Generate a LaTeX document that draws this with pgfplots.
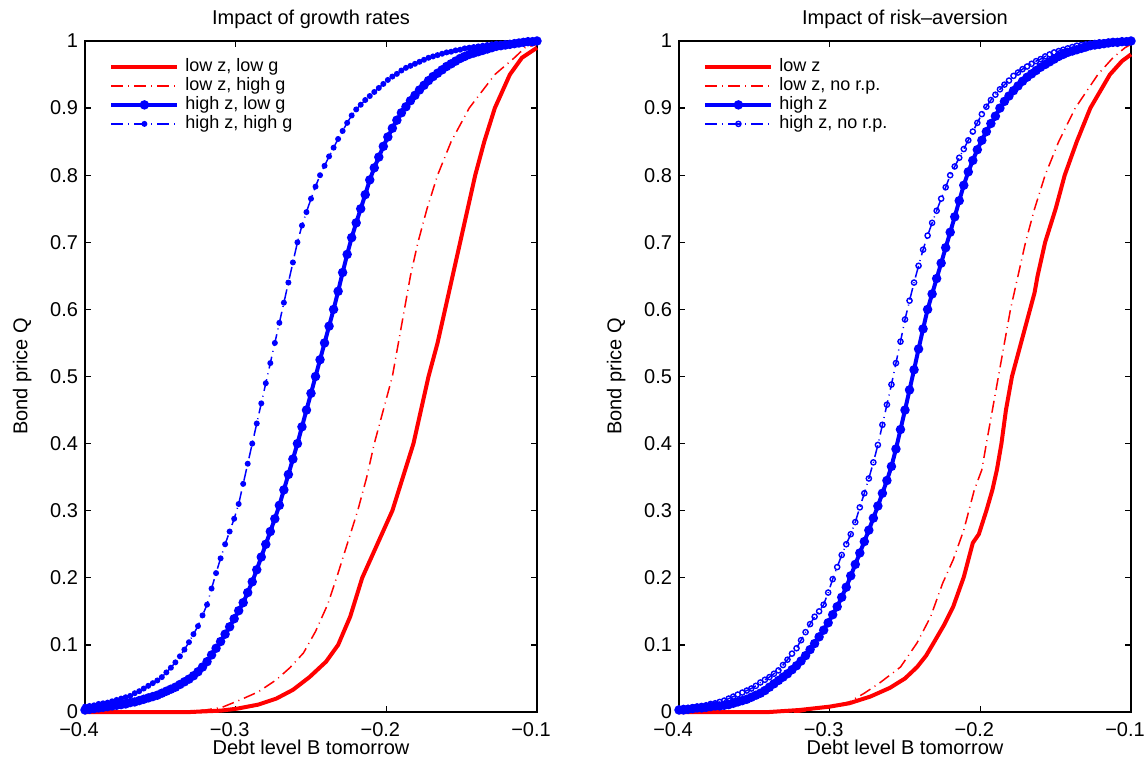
\documentclass[border=0pt]{standalone}
\usepackage{pgfplots}
\pgfplotsset{compat=1.18}
\usepackage{pgfplotstable}
\usepackage{fontspec}
\setmainfont{Liberation Sans}

% Bond price schedules Q(B') on a common grid of debt levels
\pgfplotstableread{
x      hzlg  hzhg
-0.400 0.003 0.008
-0.397 0.004 0.009
-0.394 0.005 0.010
-0.391 0.006 0.012
-0.388 0.007 0.013
-0.385 0.008 0.014
-0.382 0.009 0.016
-0.379 0.010 0.018
-0.376 0.011 0.020
-0.373 0.012 0.022
-0.370 0.014 0.024
-0.367 0.015 0.028
-0.364 0.017 0.031
-0.361 0.019 0.035
-0.358 0.021 0.039
-0.355 0.023 0.043
-0.352 0.025 0.047
-0.349 0.028 0.052
-0.346 0.031 0.059
-0.343 0.034 0.066
-0.340 0.037 0.074
-0.337 0.041 0.083
-0.334 0.045 0.093
-0.331 0.049 0.104
-0.328 0.054 0.116
-0.325 0.060 0.128
-0.322 0.067 0.144
-0.319 0.075 0.160
-0.316 0.085 0.184
-0.313 0.095 0.207
-0.310 0.105 0.229
-0.307 0.116 0.250
-0.304 0.127 0.269
-0.301 0.139 0.288
-0.298 0.151 0.310
-0.295 0.163 0.340
-0.292 0.178 0.370
-0.289 0.194 0.400
-0.286 0.212 0.430
-0.283 0.231 0.460
-0.280 0.250 0.490
-0.277 0.269 0.520
-0.274 0.288 0.550
-0.271 0.308 0.580
-0.268 0.331 0.610
-0.265 0.354 0.640
-0.262 0.377 0.670
-0.259 0.400 0.700
-0.256 0.425 0.725
-0.253 0.450 0.745
-0.250 0.475 0.765
-0.247 0.500 0.783
-0.244 0.525 0.800
-0.241 0.550 0.814
-0.238 0.575 0.828
-0.235 0.600 0.841
-0.232 0.627 0.854
-0.229 0.655 0.866
-0.226 0.682 0.878
-0.223 0.707 0.889
-0.220 0.729 0.898
-0.217 0.750 0.905
-0.214 0.771 0.912
-0.211 0.793 0.918
-0.208 0.811 0.924
-0.205 0.827 0.930
-0.202 0.843 0.936
-0.199 0.857 0.942
-0.196 0.870 0.947
-0.193 0.882 0.951
-0.190 0.893 0.956
-0.187 0.902 0.960
-0.184 0.911 0.963
-0.181 0.919 0.966
-0.178 0.927 0.969
-0.175 0.934 0.972
-0.172 0.941 0.975
-0.169 0.947 0.977
-0.166 0.952 0.979
-0.163 0.957 0.981
-0.160 0.962 0.983
-0.157 0.966 0.984
-0.154 0.970 0.986
-0.151 0.974 0.987
-0.148 0.977 0.989
-0.145 0.980 0.990
-0.142 0.982 0.991
-0.139 0.984 0.992
-0.136 0.986 0.993
-0.133 0.988 0.994
-0.130 0.990 0.995
-0.127 0.992 0.996
-0.124 0.993 0.996
-0.121 0.994 0.997
-0.118 0.995 0.997
-0.115 0.996 0.998
-0.112 0.997 0.998
-0.109 0.998 0.999
-0.106 0.999 0.999
-0.103 0.999 0.999
-0.100 1.000 1.000
}\growthblue

\pgfplotstableread{
x      hz    hznrp
-0.400 0.003 0.005
-0.397 0.003 0.006
-0.394 0.004 0.006
-0.391 0.005 0.007
-0.388 0.006 0.008
-0.385 0.006 0.009
-0.382 0.007 0.010
-0.379 0.008 0.012
-0.376 0.009 0.013
-0.373 0.009 0.015
-0.370 0.010 0.017
-0.367 0.011 0.020
-0.364 0.013 0.023
-0.361 0.015 0.026
-0.358 0.017 0.029
-0.355 0.019 0.032
-0.352 0.022 0.035
-0.349 0.025 0.039
-0.346 0.028 0.044
-0.343 0.032 0.048
-0.340 0.037 0.052
-0.337 0.042 0.057
-0.334 0.047 0.062
-0.331 0.052 0.070
-0.328 0.057 0.078
-0.325 0.063 0.087
-0.322 0.069 0.095
-0.319 0.076 0.107
-0.316 0.084 0.119
-0.313 0.093 0.131
-0.310 0.102 0.142
-0.307 0.112 0.150
-0.304 0.122 0.160
-0.301 0.133 0.178
-0.298 0.145 0.198
-0.295 0.157 0.216
-0.292 0.171 0.234
-0.289 0.186 0.250
-0.286 0.203 0.265
-0.283 0.220 0.283
-0.280 0.237 0.305
-0.277 0.254 0.326
-0.274 0.271 0.348
-0.271 0.289 0.372
-0.268 0.307 0.398
-0.265 0.326 0.428
-0.262 0.345 0.458
-0.259 0.366 0.488
-0.256 0.392 0.520
-0.253 0.421 0.552
-0.250 0.450 0.585
-0.247 0.480 0.613
-0.244 0.510 0.640
-0.241 0.541 0.665
-0.238 0.571 0.689
-0.235 0.600 0.710
-0.232 0.623 0.729
-0.229 0.646 0.747
-0.226 0.669 0.765
-0.223 0.692 0.782
-0.220 0.715 0.800
-0.217 0.738 0.813
-0.214 0.762 0.826
-0.211 0.785 0.839
-0.208 0.805 0.852
-0.205 0.822 0.865
-0.202 0.838 0.878
-0.199 0.852 0.891
-0.196 0.865 0.902
-0.193 0.877 0.912
-0.190 0.888 0.920
-0.187 0.900 0.928
-0.184 0.910 0.935
-0.181 0.918 0.941
-0.178 0.926 0.948
-0.175 0.933 0.953
-0.172 0.940 0.958
-0.169 0.946 0.962
-0.166 0.951 0.966
-0.163 0.956 0.970
-0.160 0.961 0.973
-0.157 0.965 0.977
-0.154 0.969 0.980
-0.151 0.973 0.983
-0.148 0.977 0.985
-0.145 0.980 0.987
-0.142 0.983 0.989
-0.139 0.985 0.991
-0.136 0.987 0.993
-0.133 0.989 0.994
-0.130 0.991 0.995
-0.127 0.993 0.996
-0.124 0.994 0.997
-0.121 0.995 0.998
-0.118 0.996 0.998
-0.115 0.997 0.999
-0.112 0.998 0.999
-0.109 0.998 0.999
-0.106 0.999 1.000
-0.103 0.999 1.000
-0.100 1.000 1.000
}\riskblue

\pgfplotsset{
  qpanel/.style={
    scale only axis, width=226pt, height=335.5pt,
    xmin=-0.4, xmax=-0.1, ymin=0, ymax=1,
    clip=false,
    xtick={-0.4,-0.3,-0.2,-0.1},
    xticklabels={−0.4,−0.3,−0.2,−0.1},
    ytick={0,0.1,0.2,0.3,0.4,0.5,0.6,0.7,0.8,0.9,1},
    yticklabels={0,0.1,0.2,0.3,0.4,0.5,0.6,0.7,0.8,0.9,1},
    tick align=inside, major tick length=3pt,
    every tick/.style={black, line width=0.6pt},
    axis line style={line width=0.6pt},
    ticklabel style={font=\fontsize{10}{12}\selectfont},
    xticklabel style={xshift=-3pt, yshift=-1.5pt},
    xlabel style={at={(axis description cs:0.5,-0.052)}, anchor=center, font=\fontsize{10}{12}\selectfont},
    ylabel style={at={(axis description cs:-0.139,0.5)}, anchor=center, font=\fontsize{10}{12}\selectfont},
    title style={at={(axis description cs:0.5,1)}, anchor=base, yshift=2pt, font=\fontsize{10}{12}\selectfont},
    xlabel={Debt level B tomorrow},
    ylabel={Bond price Q},
    legend cell align=left,
    legend style={draw=none, fill=none, at={(axis description cs:0,1)}, anchor=north west,
      xshift=12pt, yshift=-8pt, inner sep=0pt, row sep=0pt,
      font=\fontsize{9}{10}\selectfont,
      nodes={text height=6.5pt, text depth=2pt, inner sep=0.5pt},
      /tikz/every odd column/.append style={column sep=2.5pt}},
    legend image code/.code={\draw[mark repeat=2, mark phase=2, #1]
      plot coordinates {(0pt,0pt) (16.5pt,0pt) (33pt,0pt)};},
  },
  redsolid/.style={red, line width=2pt, no marks},
  reddashdot/.style={red, line width=0.75pt, no marks,
    dash pattern=on 6pt off 2.5pt on 0.5pt off 2.5pt},
  bluesolid/.style={blue, line width=2pt, mark=*, mark size=1.3pt, mark options={solid, fill=blue}},
  bluedashdot/.style={blue, line width=0.75pt, mark=*, mark size=1.1pt,
    dash pattern=on 6pt off 2.5pt on 0.5pt off 2.5pt, mark options={solid, fill=blue}},
  blueopen/.style={blue, line width=0.75pt, mark=o, mark size=1.3pt,
    dash pattern=on 6pt off 2.5pt on 0.5pt off 2.5pt, mark options={solid, line width=0.7pt}},
}

\begin{document}
\begin{tikzpicture}
\useasboundingbox (0,0) rectangle (573pt,380.5pt);

% growth-rate comparison
\begin{axis}[qpanel, at={(42.5pt,24.5pt)}, anchor=south west,
  title={Impact of growth rates}]
\addplot[redsolid] coordinates {
(-0.400,0.000) (-0.330,0.000) (-0.310,0.002) (-0.299,0.005) (-0.285,0.011)
(-0.273,0.020) (-0.262,0.033) (-0.251,0.052) (-0.240,0.075) (-0.232,0.100)
(-0.224,0.142) (-0.216,0.200) (-0.206,0.250) (-0.196,0.300) (-0.189,0.350)
(-0.182,0.400) (-0.177,0.450) (-0.172,0.500) (-0.166,0.550) (-0.161,0.600)
(-0.156,0.650) (-0.151,0.700) (-0.146,0.750) (-0.141,0.800) (-0.135,0.850)
(-0.128,0.900) (-0.118,0.950) (-0.110,0.975) (-0.100,0.990)};
\addlegendentry{low z, low g}
\addplot[reddashdot] coordinates {
(-0.400,0.000) (-0.340,0.000) (-0.320,0.003) (-0.309,0.007) (-0.297,0.018)
(-0.285,0.030) (-0.273,0.048) (-0.264,0.066) (-0.255,0.088) (-0.247,0.120)
(-0.239,0.160) (-0.233,0.200) (-0.226,0.250) (-0.219,0.300) (-0.213,0.350)
(-0.208,0.400) (-0.202,0.450) (-0.196,0.500) (-0.192,0.550) (-0.188,0.600)
(-0.184,0.650) (-0.179,0.700) (-0.173,0.750) (-0.166,0.800) (-0.157,0.850)
(-0.145,0.900) (-0.128,0.950) (-0.115,0.975) (-0.108,0.990) (-0.100,0.995)};
\addlegendentry{low z, high g}
\addplot[bluesolid] table[x=x, y=hzlg] {\growthblue};
\addlegendentry{high z, low g}
\addplot[bluedashdot] table[x=x, y=hzhg] {\growthblue};
\addlegendentry{high z, high g}
\end{axis}

% risk-aversion comparison
\begin{axis}[qpanel, at={(339.5pt,24.5pt)}, anchor=south west,
  title={Impact of risk\textendash aversion}]
\addplot[redsolid] coordinates {
(-0.400,0.000) (-0.340,0.000) (-0.320,0.003) (-0.300,0.008) (-0.287,0.013)
(-0.273,0.023) (-0.260,0.036) (-0.250,0.050) (-0.242,0.067) (-0.236,0.084)
(-0.231,0.103) (-0.224,0.130) (-0.218,0.157) (-0.211,0.201) (-0.205,0.252)
(-0.201,0.265) (-0.196,0.300) (-0.192,0.331) (-0.189,0.361) (-0.186,0.400)
(-0.183,0.450) (-0.179,0.500) (-0.173,0.550) (-0.167,0.600) (-0.164,0.625)
(-0.162,0.650) (-0.157,0.700) (-0.150,0.750) (-0.144,0.800) (-0.136,0.850)
(-0.127,0.900) (-0.114,0.950) (-0.106,0.970) (-0.100,0.980)};
\addlegendentry{low z}
\addplot[reddashdot] coordinates {
(-0.400,0.000) (-0.320,0.000) (-0.300,0.008) (-0.287,0.015) (-0.277,0.028)
(-0.267,0.043) (-0.253,0.067) (-0.242,0.103) (-0.233,0.142) (-0.225,0.192)
(-0.218,0.227) (-0.211,0.271) (-0.204,0.331) (-0.199,0.361) (-0.196,0.400)
(-0.192,0.450) (-0.188,0.500) (-0.184,0.550) (-0.180,0.600) (-0.175,0.650)
(-0.170,0.700) (-0.164,0.750) (-0.157,0.800) (-0.148,0.850) (-0.137,0.900)
(-0.122,0.950) (-0.112,0.975) (-0.104,0.990) (-0.100,0.995)};
\addlegendentry{low z, no r.p.}
\addplot[bluesolid] table[x=x, y=hz] {\riskblue};
\addlegendentry{high z}
\addplot[blueopen] table[x=x, y=hznrp] {\riskblue};
\addlegendentry{high z, no r.p.}
\end{axis}
\end{tikzpicture}
\end{document}
